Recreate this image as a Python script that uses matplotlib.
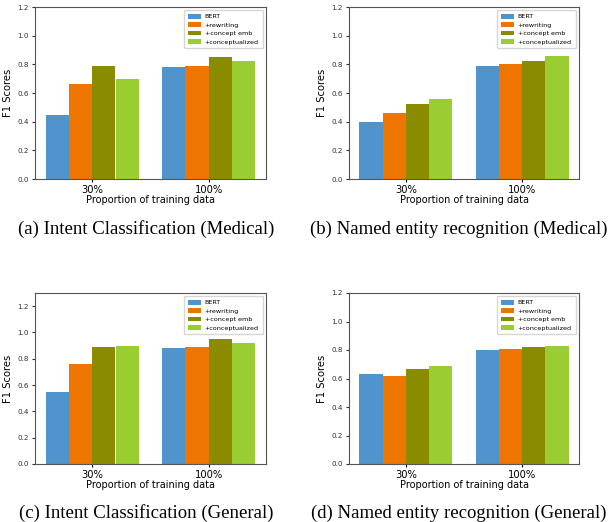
import numpy as np
import matplotlib
matplotlib.use("Agg")
import matplotlib.pyplot as plt

groups = ["30%", "100%"]
methods = ["BERT", "+rewriting", "+concept emb", "+conceptualized"]
colors = ["#4f94cd", "#ee7600", "#8b8b00", "#9acd32"]

# F1 scores per method: [30%, 100%]
intent_medical = [[0.45, 0.78], [0.66, 0.79], [0.79, 0.85], [0.70, 0.82]]
ner_medical = [[0.40, 0.79], [0.46, 0.80], [0.52, 0.82], [0.56, 0.86]]
intent_general = [[0.55, 0.88], [0.76, 0.89], [0.89, 0.95], [0.90, 0.92]]
ner_general = [[0.63, 0.80], [0.62, 0.81], [0.67, 0.82], [0.69, 0.83]]

captions = ["(a) Intent Classification (Medical)",
            "(b) Named entity recognition (Medical)",
            "(c) Intent Classification (General)",
            "(d) Named entity recognition (General)"]
ytops = [1.2, 1.2, 1.3, 1.2]

W, H = 612, 522
fig = plt.figure(figsize=(W / 100, H / 100), dpi=100)

# axes boxes in pixels: left, top, right, bottom
boxes = [(35, 7, 266, 179), (349, 7, 579, 179),
         (35, 293, 266, 464), (349, 293, 579, 464)]
caption_pos = [(146, 229), (459, 229), (146, 513), (459, 513)]

x = np.arange(len(groups))
width = 0.2
for k, data in enumerate([intent_medical, ner_medical, intent_general, ner_general]):
    l, t, r, b = boxes[k]
    ax = fig.add_axes([l / W, 1 - b / H, (r - l) / W, (b - t) / H])
    for i, m in enumerate(methods):
        ax.bar(x + (i - 1.5) * width, data[i], width, color=colors[i], label=m)
    ax.set_xticks(x)
    ax.set_xticklabels(groups, fontsize=7.2)
    ax.set_ylim(0, ytops[k])
    ax.set_yticks(np.arange(0, 1.21, 0.2))
    ax.tick_params(axis="y", labelsize=5.2, colors="#333333", length=2.5, pad=2)
    ax.tick_params(axis="x", length=2.5, pad=1.5)
    ax.set_ylabel("F1 Scores", fontsize=7.2, labelpad=3)
    ax.set_xlabel("Proportion of training data", fontsize=7, labelpad=0.5)
    for s in ax.spines.values():
        s.set_color("#555555")
        s.set_linewidth(0.8)
    ax.legend(loc="upper right", fontsize=4.6, handlelength=2.0,
              handletextpad=0.6, borderpad=0.6, labelspacing=0.45)
    cx, cy = caption_pos[k]
    fig.text(cx / W, 1 - cy / H, captions[k], ha="center", va="center",
             fontsize=13.5, family="Liberation Serif")

fig.savefig("out.png", dpi=100)
